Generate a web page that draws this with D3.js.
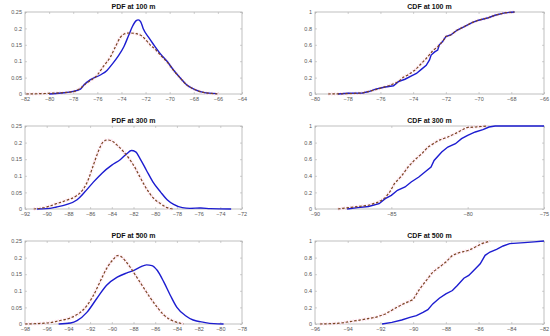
<!DOCTYPE html>
<html><head><meta charset="utf-8">
<script src="https://cdn.jsdelivr.net/npm/d3@7/dist/d3.min.js"></script>
<style>body{margin:0;background:#fff;}svg{display:block;font-family:"Liberation Sans",Arial,sans-serif;}</style>
</head><body>
<svg id="c" width="550" height="336"></svg>
<script>
// ---------- DATA ----------
const titles = ["PDF at 100 m","CDF at 100 m","PDF at 300 m","CDF at 300 m","PDF at 500 m","CDF at 500 m"];
const xDomains = [[-82,-64],[-80,-66],[-92,-72],[-90,-75],[-98,-78],[-96,-82]];
const xTickVals = [
  [-82,-80,-78,-76,-74,-72,-70,-68,-66,-64],
  [-80,-78,-76,-74,-72,-70,-68,-66],
  [-92,-90,-88,-86,-84,-82,-80,-78,-76,-74,-72],
  [-90,-85,-80,-75],
  [-98,-96,-94,-92,-90,-88,-86,-84,-82,-80,-78],
  [-96,-94,-92,-90,-88,-86,-84,-82]
];
const pdfYTicks = [0,0.05,0.1,0.15,0.2,0.25];
const cdfYTicks = [0,0.2,0.4,0.6,0.8,1];

// PDF 100 m
const pdf100X_meas = [-80,-79,-78,-77.4,-77.1,-76.6,-75.75,-75.2,-74.7,-74.3,-73.8,-73.4,-73.1,-72.8,-72.6,-72.4,-72.2,-71.7,-71.3,-70.8,-70.2,-69.7,-69.1,-68.6,-68,-67.2,-66.1];
const pdf100Y_meas = [0,0.003,0.008,0.015,0.028,0.043,0.058,0.072,0.094,0.114,0.144,0.179,0.205,0.223,0.226,0.22,0.2,0.17,0.149,0.124,0.099,0.074,0.048,0.028,0.015,0.005,0.001];
const pdf100X_fit = [-81.9,-80,-78,-77.4,-76.9,-76,-75.5,-74.9,-74.5,-74.1,-73.7,-73.3,-72.8,-72.4,-72,-71.6,-71.3,-70.8,-70.2,-69.7,-69.1,-68.6,-68,-67.2,-65.9];
const pdf100Y_fit = [0,0.002,0.007,0.018,0.033,0.058,0.084,0.114,0.144,0.172,0.184,0.186,0.184,0.179,0.166,0.149,0.14,0.12,0.097,0.073,0.048,0.028,0.015,0.005,0];

// PDF 300 m
const pdf300X_meas = [-90.9,-90,-89.1,-88.2,-87.2,-86.5,-85.7,-84.9,-84,-83.2,-82.6,-82.2,-81.8,-81.4,-80.8,-80.2,-79.5,-78.9,-78.3,-77.5,-76.8,-75.8,-74.9,-73];
const pdf300Y_meas = [0,0.001,0.006,0.013,0.028,0.051,0.081,0.108,0.132,0.149,0.167,0.176,0.172,0.152,0.116,0.081,0.051,0.028,0.014,0.004,0.002,0.003,0.001,0];
const pdf300X_fit = [-91.2,-90,-89.1,-88.2,-87.2,-86.6,-86.2,-85.7,-85.2,-84.8,-84.4,-84,-83.5,-82.9,-82.3,-81.8,-81.4,-80.8,-80.2,-79.5,-78.9,-78.3];
const pdf300Y_fit = [0,0.006,0.016,0.026,0.041,0.061,0.086,0.132,0.177,0.202,0.208,0.205,0.192,0.172,0.147,0.121,0.096,0.061,0.034,0.016,0.004,0];

// PDF 500 m
const pdf500X_meas = [-94.9,-93.8,-93.2,-92.3,-91.4,-90.5,-89.5,-88.6,-88,-87.4,-86.8,-86.3,-85.8,-85.2,-84.6,-84,-83.2,-82.5,-81.5,-80.6,-79.7];
const pdf500Y_meas = [0,0.003,0.01,0.035,0.076,0.116,0.141,0.154,0.161,0.171,0.178,0.176,0.161,0.126,0.086,0.05,0.025,0.012,0.005,0.001,0];
const pdf500X_fit = [-98,-96,-94.8,-93.7,-92.9,-92.3,-91.7,-91.1,-90.5,-89.8,-89.5,-89.2,-88.8,-88.3,-87.7,-87.1,-86.5,-85.8,-85.2,-84.6,-84,-83.4];
const pdf500Y_fit = [0,0.003,0.01,0.02,0.035,0.055,0.086,0.126,0.166,0.197,0.206,0.204,0.192,0.171,0.141,0.111,0.081,0.05,0.027,0.013,0.005,0];

// CDF 100 m
const cdf100X_meas = [-78.6,-78,-77.1,-76.7,-76.3,-75.7,-75.2,-74.9,-74.5,-74.1,-73.8,-73.5,-73.2,-73,-72.9,-72.7,-72.5,-72.4,-72.2,-72,-71.7,-71.3,-70.9,-70.4,-70,-69.4,-69,-68.4,-67.8];
const cdf100Y_meas = [0,0.01,0.012,0.03,0.06,0.085,0.1,0.15,0.18,0.22,0.25,0.3,0.35,0.415,0.475,0.51,0.535,0.6,0.64,0.7,0.72,0.78,0.82,0.87,0.9,0.93,0.96,0.99,1];
const cdf100X_fit = [-79.2,-78,-77.1,-76.3,-75.5,-74.9,-74.6,-74.3,-73.9,-73.5,-73.1,-72.8,-72.5,-72.2,-72,-71.7,-71.3,-70.9,-70.4,-70,-69.4,-69,-68.4,-67.8];
const cdf100Y_fit = [0,0.004,0.012,0.052,0.1,0.15,0.205,0.234,0.29,0.37,0.455,0.53,0.576,0.64,0.7,0.72,0.78,0.82,0.87,0.9,0.93,0.96,0.99,1];

// CDF 300 m
const cdf300X_meas = [-87.9,-87.2,-86.5,-85.8,-85.4,-85,-84.6,-84.1,-83.7,-83.2,-82.8,-82.4,-82.2,-81.7,-81.3,-80.8,-80.4,-80,-79.5,-79,-78.6,-78.2,-75];
const cdf300Y_meas = [0,0.016,0.03,0.064,0.125,0.165,0.225,0.265,0.325,0.385,0.445,0.505,0.585,0.687,0.747,0.787,0.847,0.888,0.928,0.956,0.988,1,1];
const cdf300X_fit = [-88.5,-87.8,-87.2,-86.5,-85.8,-85.4,-85.1,-84.8,-84.3,-83.9,-83.5,-83,-82.6,-81.9,-81.3,-80.6,-80.1,-79.5,-78.7];
const cdf300Y_fit = [0,0.016,0.03,0.045,0.085,0.137,0.205,0.305,0.405,0.506,0.586,0.667,0.747,0.827,0.867,0.928,0.98,0.988,1];

// CDF 500 m
const cdf500X_meas = [-91.9,-91.3,-90.7,-90.2,-89.8,-89.4,-89.1,-88.8,-88.4,-88,-87.6,-87.3,-86.9,-86.6,-86.3,-85.9,-85.6,-85.3,-84.9,-84.5,-84.1,-83.2,-82.6,-82];
const cdf500Y_meas = [0,0.02,0.048,0.08,0.1,0.14,0.173,0.242,0.31,0.363,0.403,0.464,0.552,0.585,0.645,0.726,0.827,0.867,0.9,0.94,0.968,0.98,0.99,1];
const cdf500X_fit = [-95.7,-95,-94.4,-93.9,-93.1,-92.3,-91.7,-91.1,-90.6,-90,-89.6,-89.2,-88.8,-88.4,-88,-87.6,-87.2,-86.6,-86.2,-85.8,-85.3];
const cdf500Y_fit = [0,0.004,0.012,0.028,0.052,0.08,0.12,0.19,0.242,0.294,0.423,0.524,0.625,0.685,0.746,0.827,0.859,0.887,0.927,0.968,1];

const seriesX = [[pdf100X_meas,pdf100X_fit],[cdf100X_meas,cdf100X_fit],[pdf300X_meas,pdf300X_fit],[cdf300X_meas,cdf300X_fit],[pdf500X_meas,pdf500X_fit],[cdf500X_meas,cdf500X_fit]];
const seriesY = [[pdf100Y_meas,pdf100Y_fit],[cdf100Y_meas,cdf100Y_fit],[pdf300Y_meas,pdf300Y_fit],[cdf300Y_meas,cdf300Y_fit],[pdf500Y_meas,pdf500Y_fit],[cdf500Y_meas,cdf500Y_fit]];

// ---------- LAYOUT ----------
const boxes = [
  {x0:25,x1:242,y0:12,y1:94},{x0:315,x1:544,y0:12,y1:94},
  {x0:25,x1:242,y0:126,y1:209},{x0:315,x1:544,y0:126,y1:209},
  {x0:25,x1:242,y0:241,y1:324},{x0:315,x1:544,y0:241,y1:324}
];
const blue = "#1c1cd0", brown = "#7a4422";

const svg = d3.select("#c");
titles.forEach((t,i)=>{
  const b = boxes[i], isPdf = i%2===0;
  const x = d3.scaleLinear().domain(xDomains[i]).range([b.x0,b.x1]);
  const y = d3.scaleLinear().domain(isPdf?[0,0.25]:[0,1]).range([b.y1,b.y0]);
  const g = svg.append("g");
  g.append("rect").attr("x",b.x0).attr("y",b.y0).attr("width",b.x1-b.x0).attr("height",b.y1-b.y0)
    .attr("fill","#fff").attr("stroke","#b0b0b0").attr("stroke-width",0.8);
  const yt = isPdf?pdfYTicks:cdfYTicks;
  const fmt = d3.format("~g");
  g.append("g").attr("transform",`translate(0,${b.y1})`)
    .call(d3.axisBottom(x).tickValues(xTickVals[i]).tickSize(-2).tickPadding(3).tickFormat(d=>fmt(d)));
  g.append("g").attr("transform",`translate(${b.x0},0)`)
    .call(d3.axisLeft(y).tickValues(yt).tickSize(-2).tickPadding(3).tickFormat(d=>fmt(d)));
  g.append("g").attr("transform",`translate(0,${b.y0})`).call(d3.axisTop(x).tickValues(xTickVals[i]).tickSize(-2).tickFormat(""));
  g.append("g").attr("transform",`translate(${b.x1},0)`).call(d3.axisRight(y).tickValues(yt).tickSize(-2).tickFormat(""));
  g.selectAll(".domain").remove();
  g.selectAll(".tick line").attr("stroke","#b0b0b0").attr("stroke-width",0.6);
  g.selectAll(".tick text").attr("fill","#555").style("font-size","5.5px");
  g.append("text").attr("x",(b.x0+b.x1)/2).attr("y",b.y0-3).attr("text-anchor","middle")
    .style("font-size","7px").style("font-weight","bold").attr("fill","#111").text(t);

  const curve = isPdf ? d3.curveMonotoneX : d3.curveLinear;
  const mk = (xs,ys)=> d3.line().curve(curve).x((d,k)=>x(xs[k])).y((d,k)=>y(ys[k]))(xs);
  const [xm,xf] = seriesX[i], [ym,yf] = seriesY[i];
  g.append("path").attr("d",mk(xf,yf)).attr("fill","none").attr("stroke","#ffe4f0").attr("stroke-width",3.5).attr("stroke-dasharray","1.5,1.5");
  g.append("path").attr("d",mk(xm,ym)).attr("fill","none").attr("stroke",blue).attr("stroke-width",1.4);
  g.append("path").attr("d",mk(xf,yf)).attr("fill","none").attr("stroke",brown).attr("stroke-width",1.2).attr("stroke-dasharray","2.5,1.8");
});
</script>
</body></html>
